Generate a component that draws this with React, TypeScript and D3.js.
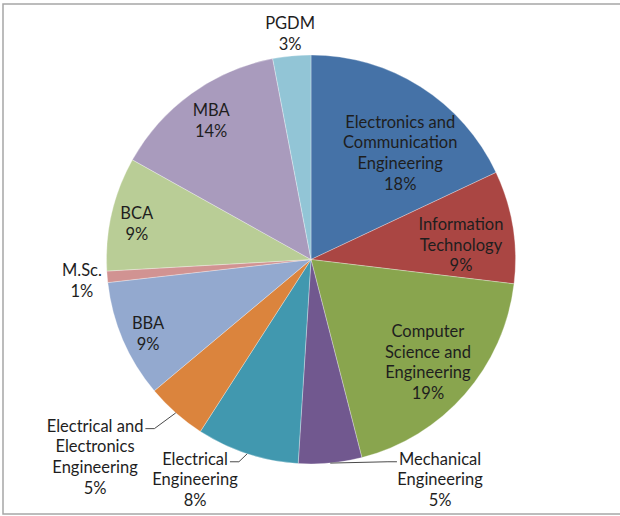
import React, { useRef, useEffect } from 'react';
import * as d3 from 'd3';

const categories = [
    "Electronics and\nCommunication\nEngineering",
    "Information\nTechnology",
    "Computer\nScience and\nEngineering",
    "Mechanical\nEngineering",
    "Electrical\nEngineering",
    "Electrical and\nElectronics\nEngineering",
    "BBA",
    "M.Sc.",
    "BCA",
    "MBA",
    "PGDM",
];
const shares = [18, 8.9, 19.1, 5, 8.1, 4.8, 9.3, 0.9, 9, 13.9, 3];
const percentLabels = ["18%", "9%", "19%", "5%", "8%", "5%", "9%", "1%", "9%", "14%", "3%"];
const colors = [
    "#4572a7", "#aa4643", "#89a54e", "#71588f", "#4198af", "#db843d",
    "#93a9cf", "#d19392", "#b9cd96", "#a99bbd", "#92c5d6",
];

// label block centre: [fraction of pie radius, degrees clockwise from 12 o'clock]
const labelPlacement: [number, number][] = [
    [0.68, 39.9], [0.737, 84.3], [0.76, 131.2], [1.247, 149.6], [1.216, 207.8],
    [1.43, 227.6], [0.875, 245.6], [1.125, 264.8], [0.87, 281.7], [0.837, 324.3], [1.11, 354.7],
];
// leader line attaches to left or right end of the first text line
const leaderSide = [null, null, null, "left", "right", "right", null, null, null, null, null];

const W = 620, H = 516;
const cx = 311, cy = 259.5, radius = 204.5;
const lineH = 20.7;

export default function App() {
    const ref = useRef<SVGSVGElement>(null);

    useEffect(() => {
        if (!ref.current) return;
        const svg = d3.select(ref.current);
        svg.selectAll("*").remove();

        svg.append("rect")
            .attr("x", 3).attr("y", 4)
            .attr("width", 700).attr("height", 510)
            .attr("fill", "#fff")
            .attr("stroke", "#a6a6a6")
            .attr("stroke-width", 1.5);

        const pie = d3.pie<number>().sort(null).value(d => d);
        const arcs = pie(shares);
        const arc = d3.arc<d3.PieArcDatum<number>>().innerRadius(0).outerRadius(radius);

        const g = svg.append("g").attr("transform", `translate(${cx},${cy})`);
        g.selectAll("path").data(arcs).enter()
            .append("path")
            .attr("d", arc)
            .attr("fill", (d, i) => colors[i])
            .attr("stroke", "#ffffff")
            .attr("stroke-opacity", 0.5)
            .attr("stroke-width", 0.6);

        const labels = g.append("g")
            .attr("font-family", "Lato, 'Open Sans', sans-serif")
            .attr("font-size", 16.5)
            .attr("fill", "#1e1e1e");

        arcs.forEach((a, i) => {
            const [frac, deg] = labelPlacement[i];
            const t = deg * Math.PI / 180;
            const px = Math.sin(t) * radius * frac;
            const py = -Math.cos(t) * radius * frac;
            const lines = [...categories[i].split("\n"), percentLabels[i]];
            const y0 = py - (lines.length - 1) * lineH / 2;
            const text = labels.append("text")
                .attr("text-anchor", "middle")
                .attr("dominant-baseline", "central");
            const spans = lines.map((ln, k) =>
                text.append("tspan").attr("x", px).attr("y", y0 + k * lineH).text(ln)
            );

            const side = leaderSide[i];
            if (side) {
                const w = (spans[0].node() as SVGTSpanElement).getComputedTextLength();
                const mid = (a.startAngle + a.endAngle) / 2;
                const ex = Math.sin(mid) * radius;
                const ey = -Math.cos(mid) * radius;
                const ly = y0 + 3;
                const tx = side === "right" ? px + w / 2 + 2 : px - w / 2 - 2;
                const bx = side === "right" ? tx + 9 : tx - 9;
                g.append("polyline")
                    .attr("points", `${tx},${ly} ${bx},${ly} ${ex},${ey}`)
                    .attr("fill", "none")
                    .attr("stroke", "#4a4a4a")
                    .attr("stroke-width", 1);
            }
        });
    }, []);

    return (
        <svg
            ref={ref}
            width={W}
            height={H}
            style={{ position: "absolute", left: 0, top: 0, background: "#fff" }}
        />
    );
}
